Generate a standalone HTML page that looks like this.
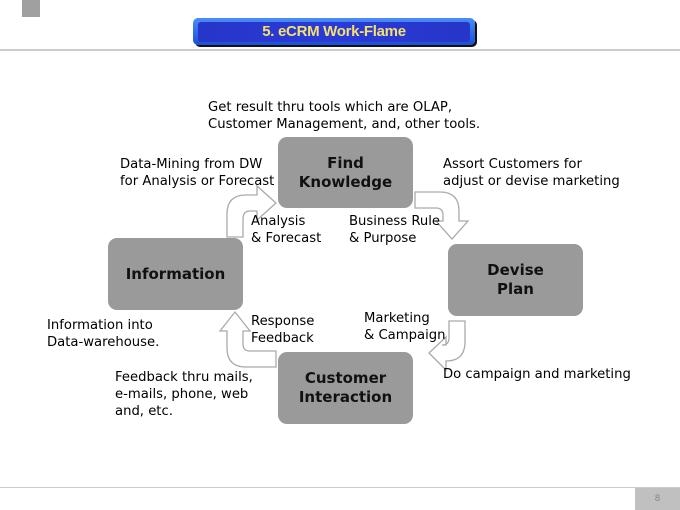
<!DOCTYPE html>
<html><head><meta charset="utf-8"><style>
body{margin:0;width:680px;height:510px;background:#fff;position:relative;overflow:hidden;font-family:"DejaVu Sans",sans-serif;color:#000}
.t{position:absolute;font-size:13.2px;line-height:17px;white-space:nowrap}
.b{position:absolute;background:#9a9a9a;border-radius:9px;display:flex;align-items:center;justify-content:center;text-align:center;font-weight:bold;font-size:15px;line-height:19px;color:#111}
</style></head><body>
<div style="position:absolute;left:22px;top:0;width:18px;height:17px;background:#a0a0a0"></div>
<div style="position:absolute;left:193px;top:18px;width:282px;height:27px;border-radius:5px;background:linear-gradient(#4a8cf8,#1a4fd8);box-shadow:2px 2px 0 #111"></div>
<div style="position:absolute;left:198px;top:22px;width:272px;height:20px;border-radius:3px;background:linear-gradient(90deg,#2636c8,#2a3ad8 50%,#2636c8);color:#f4e26a;font-family:'Liberation Sans',sans-serif;font-weight:bold;font-size:15px;line-height:20px;text-align:center;letter-spacing:-0.3px">5. eCRM Work-Flame</div>
<div style="position:absolute;left:0;top:49px;width:680px;height:2px;background:#ccc"></div>
<div style="position:absolute;left:0;top:487px;width:680px;height:1px;background:#ccc"></div>
<div style="position:absolute;left:635px;top:488px;width:45px;height:22px;background:#c0c0c0;color:#888;font-size:9px;line-height:22px;text-align:center">8</div>

<svg width="680" height="510" style="position:absolute;left:0;top:0" fill="#fff" stroke="#aaa" stroke-width="1.3">
<path d="M227 237 L227 214 Q227 195 246 195 L257 195 L257 186 L276 203 L257 220 L257 211 L250 211 Q243 211 243 219 L243 237 Z"/>
<path d="M415 192 L440 192 Q459 192 459 211 L459 221 L468 221 L452 239 L436 221 L443 221 L443 215 Q443 208 436 208 L415 208 Z"/>
<path d="M449 321 L465 321 L465 342 Q465 361 446 361 L446 370 L429 353 L446 337 L446 345 L442 345 Q449 345 449 338 Z"/>
<path d="M276 351 L276 367 L246 367 Q227 367 227 348 L227 331 L220 331 L235 312 L250 331 L243 331 L243 344 Q243 351 250 351 Z"/>
</svg>

<div class="b" style="left:278px;top:137px;width:135px;height:71px">Find<br>Knowledge</div>
<div class="b" style="left:108px;top:238px;width:135px;height:72px">Information</div>
<div class="b" style="left:448px;top:244px;width:135px;height:72px">Devise<br>Plan</div>
<div class="b" style="left:278px;top:352px;width:135px;height:72px">Customer<br>Interaction</div>

<div class="t" style="left:208px;top:99px">Get result thru tools which are OLAP,<br>Customer Management, and, other tools.</div>
<div class="t" style="left:120px;top:156px">Data-Mining from DW<br>for Analysis or Forecast</div>
<div class="t" style="left:443px;top:156px">Assort Customers for<br>adjust or devise marketing</div>
<div class="t" style="left:251px;top:213px">Analysis<br>&amp; Forecast</div>
<div class="t" style="left:349px;top:213px">Business Rule<br>&amp; Purpose</div>
<div class="t" style="left:47px;top:317px">Information into<br>Data-warehouse.</div>
<div class="t" style="left:251px;top:313px">Response<br>Feedback</div>
<div class="t" style="left:364px;top:310px">Marketing<br>&amp; Campaign</div>
<div class="t" style="left:443px;top:366px">Do campaign and marketing</div>
<div class="t" style="left:115px;top:369px">Feedback thru mails,<br>e-mails, phone, web<br>and, etc.</div>
</body></html>
